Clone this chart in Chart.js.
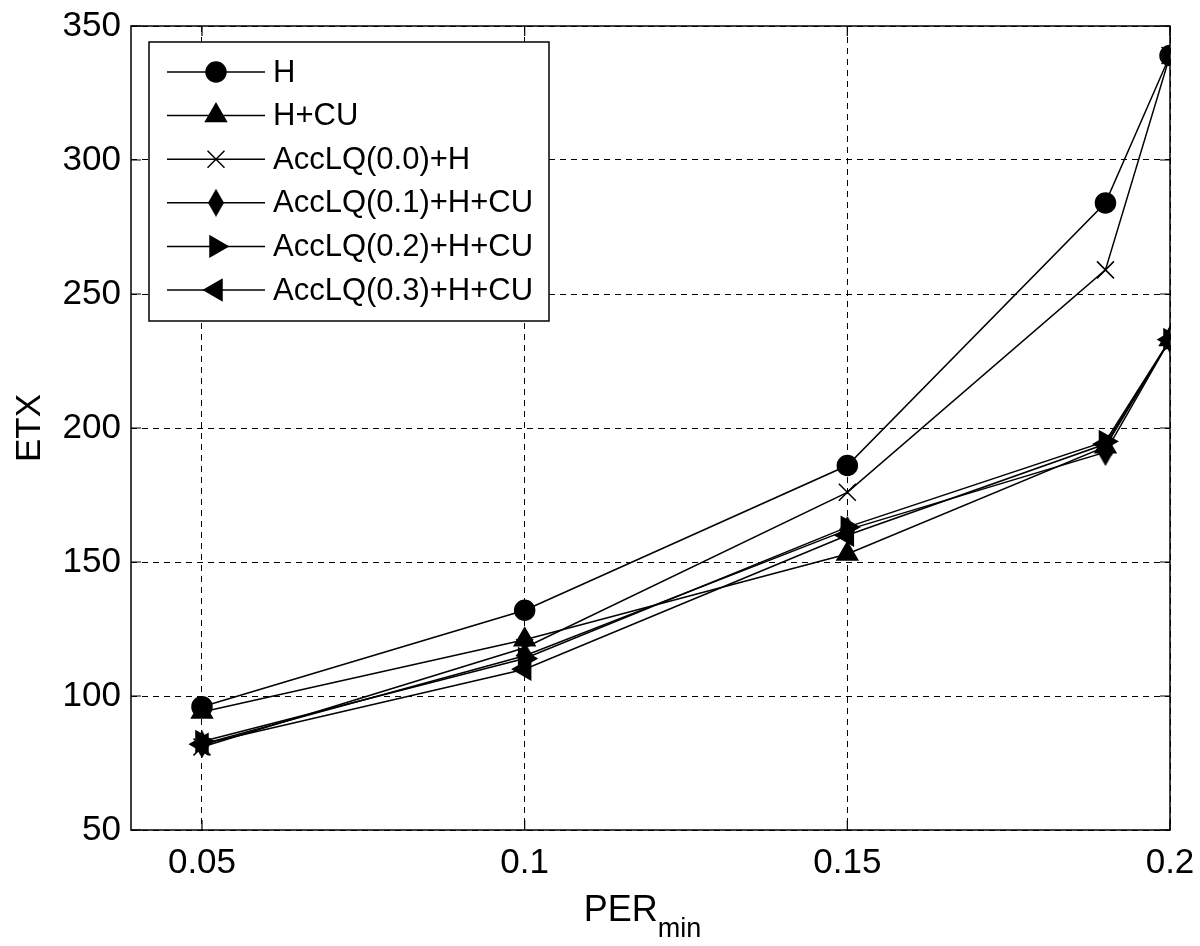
<!DOCTYPE html>
<html>
<head>
<meta charset="utf-8">
<script src="https://cdn.jsdelivr.net/npm/chart.js@4/dist/chart.umd.min.js"></script>
<style>
  html, body { margin: 0; padding: 0; background: #fff; }
  #wrap { width: 1200px; height: 946px; }
</style>
</head>
<body>
<div id="wrap"><canvas id="etxChart" width="1200" height="946"></canvas></div>
<script>
// x positions (PER_min) and tick values
var perMin = [0.05, 0.1, 0.15, 0.19, 0.2];
var xTicks = [0.05, 0.1, 0.15, 0.2];
var yTicks = [50, 100, 150, 200, 250, 300, 350];

// ETX per scheme
var etxH        = [96, 132, 186, 284, 339];
var etxHCU      = [94, 121, 153, 193, 233];
var etxAcc00H   = [81, 118, 176, 259, 339];
var etxAcc01HCU = [82, 115, 162, 191, 233];
var etxAcc02HCU = [83, 114, 163, 195, 233];
var etxAcc03HCU = [82, 110, 160, 194, 233];

var seriesNames = ['H', 'H+CU', 'AccLQ(0.0)+H', 'AccLQ(0.1)+H+CU', 'AccLQ(0.2)+H+CU', 'AccLQ(0.3)+H+CU'];

var FONT = 'Arial, "Liberation Sans", sans-serif';

// MATLAB-style diamond is taller than wide
function diamondMarker() {
    var c = document.createElement('canvas');
    c.width = 16; c.height = 28;
    var g = c.getContext('2d');
    g.fillStyle = '#000';
    g.beginPath();
    g.moveTo(8, 0); g.lineTo(16, 14); g.lineTo(8, 28); g.lineTo(0, 14);
    g.closePath();
    g.fill();
    return c;
}

function toPoints(ys) {
    return ys.map(function(y, i) { return { x: perMin[i], y: y }; });
}

function makeSet(label, ys, style, radius, rotation) {
    return {
        label: label,
        data: toPoints(ys),
        borderColor: '#000',
        backgroundColor: '#000',
        borderWidth: 1.5,
        pointStyle: style,
        pointRadius: radius,
        pointRotation: rotation || 0,
        pointBackgroundColor: '#000',
        pointBorderColor: '#000',
        pointBorderWidth: 1.5,
        tension: 0,
        fill: false
    };
}

var datasets = [
    makeSet(seriesNames[0], etxH, 'circle', 10),
    makeSet(seriesNames[1], etxHCU, 'triangle', 12),
    makeSet(seriesNames[2], etxAcc00H, 'crossRot', 12),
    makeSet(seriesNames[3], etxAcc01HCU, diamondMarker(), 12),
    makeSet(seriesNames[4], etxAcc02HCU, 'triangle', 12, 90),
    makeSet(seriesNames[5], etxAcc03HCU, 'triangle', 12, -90)
];

// frame, inward ticks, axis titles and the legend box
var matlabDecor = {
    id: 'matlabDecor',
    afterDraw: function(chart) {
        var ctx = chart.ctx;
        var a = chart.chartArea;
        var xs = chart.scales.x, ys = chart.scales.y;
        ctx.save();

        // box
        ctx.strokeStyle = '#000';
        ctx.lineWidth = 1.5;
        ctx.setLineDash([]);
        ctx.strokeRect(a.left, a.top, a.right - a.left, a.bottom - a.top);

        // inward tick marks on all sides
        ctx.lineWidth = 1.2;
        ctx.beginPath();
        xTicks.forEach(function(t) {
            var px = xs.getPixelForValue(t);
            ctx.moveTo(px, a.bottom); ctx.lineTo(px, a.bottom - 10);
            ctx.moveTo(px, a.top); ctx.lineTo(px, a.top + 10);
        });
        yTicks.forEach(function(t) {
            var py = ys.getPixelForValue(t);
            ctx.moveTo(a.left, py); ctx.lineTo(a.left + 10, py);
            ctx.moveTo(a.right, py); ctx.lineTo(a.right - 10, py);
        });
        ctx.stroke();

        // y title
        ctx.fillStyle = '#000';
        ctx.font = '35px ' + FONT;
        ctx.textAlign = 'center';
        ctx.textBaseline = 'middle';
        ctx.save();
        ctx.translate(30, (a.top + a.bottom) / 2);
        ctx.rotate(-Math.PI / 2);
        ctx.fillText('ETX', 0, 0);
        ctx.restore();

        // x title with subscript
        var mainTxt = 'PER', subTxt = 'min';
        ctx.font = '36px ' + FONT;
        var w1 = ctx.measureText(mainTxt).width;
        ctx.font = '27px ' + FONT;
        var w2 = ctx.measureText(subTxt).width;
        var cx = (a.left + a.right) / 2 - 8;
        var x0 = cx - (w1 + w2) / 2;
        ctx.textAlign = 'left';
        ctx.textBaseline = 'alphabetic';
        ctx.font = '36px ' + FONT;
        ctx.fillText(mainTxt, x0, 921);
        ctx.font = '27px ' + FONT;
        ctx.fillText(subTxt, x0 + w1, 937);

        // legend
        var lx = 149, ly = 42, lw = 400, lh = 279;
        ctx.fillStyle = '#fff';
        ctx.fillRect(lx, ly, lw, lh);
        ctx.lineWidth = 1.5;
        ctx.strokeStyle = '#000';
        ctx.strokeRect(lx, ly, lw, lh);
        var rowH = 43.6;
        chart.data.datasets.forEach(function(ds, i) {
            var ry = 72 + i * rowH;
            ctx.beginPath();
            ctx.lineWidth = 1.5;
            ctx.moveTo(167, ry); ctx.lineTo(265, ry);
            ctx.stroke();
            ctx.fillStyle = '#000';
            if (Chart.helpers && Chart.helpers.drawPoint) {
                Chart.helpers.drawPoint(ctx, {
                    pointStyle: ds.pointStyle,
                    rotation: ds.pointRotation,
                    radius: ds.pointRadius,
                    borderWidth: 1.5
                }, 216, ry);
            }
            ctx.fillStyle = '#000';
            ctx.font = '31px ' + FONT;
            ctx.textAlign = 'left';
            ctx.textBaseline = 'middle';
            ctx.fillText(ds.label, 273, ry + 1);
        });
        ctx.restore();
    }
};

new Chart(document.getElementById('etxChart'), {
    type: 'line',
    data: { datasets: datasets },
    plugins: [matlabDecor],
    options: {
        responsive: false,
        animation: false,
        events: [],
        layout: { padding: { left: 0, right: 30, top: 26, bottom: 0 } },
        plugins: {
            legend: { display: false },
            tooltip: { enabled: false }
        },
        scales: {
            x: {
                type: 'linear',
                min: 0.039,
                max: 0.2,
                afterBuildTicks: function(axis) {
                    axis.ticks = xTicks.map(function(v) { return { value: v }; });
                },
                afterFit: function(axis) {
                    axis.height = 116;
                    axis.paddingRight = 0;
                    axis.paddingLeft = 0;
                },
                grid: {
                    color: '#000',
                    lineWidth: 1,
                    drawTicks: false
                },
                border: { display: false, dash: [6, 5] },
                ticks: {
                    color: '#000',
                    padding: 12,
                    maxRotation: 0,
                    autoSkip: false,
                    font: { family: FONT, size: 35 },
                    callback: function(v) { return String(v); }
                }
            },
            y: {
                type: 'linear',
                min: 50,
                max: 350,
                afterBuildTicks: function(axis) {
                    axis.ticks = yTicks.map(function(v) { return { value: v }; });
                },
                afterFit: function(axis) {
                    axis.width = 131;
                    axis.paddingTop = 0;
                    axis.paddingBottom = 0;
                },
                grid: {
                    color: '#000',
                    lineWidth: 1,
                    drawTicks: false
                },
                border: { display: false, dash: [6, 5] },
                ticks: {
                    color: '#000',
                    padding: 10,
                    font: { family: FONT, size: 35 }
                }
            }
        }
    }
});
</script>
</body>
</html>
